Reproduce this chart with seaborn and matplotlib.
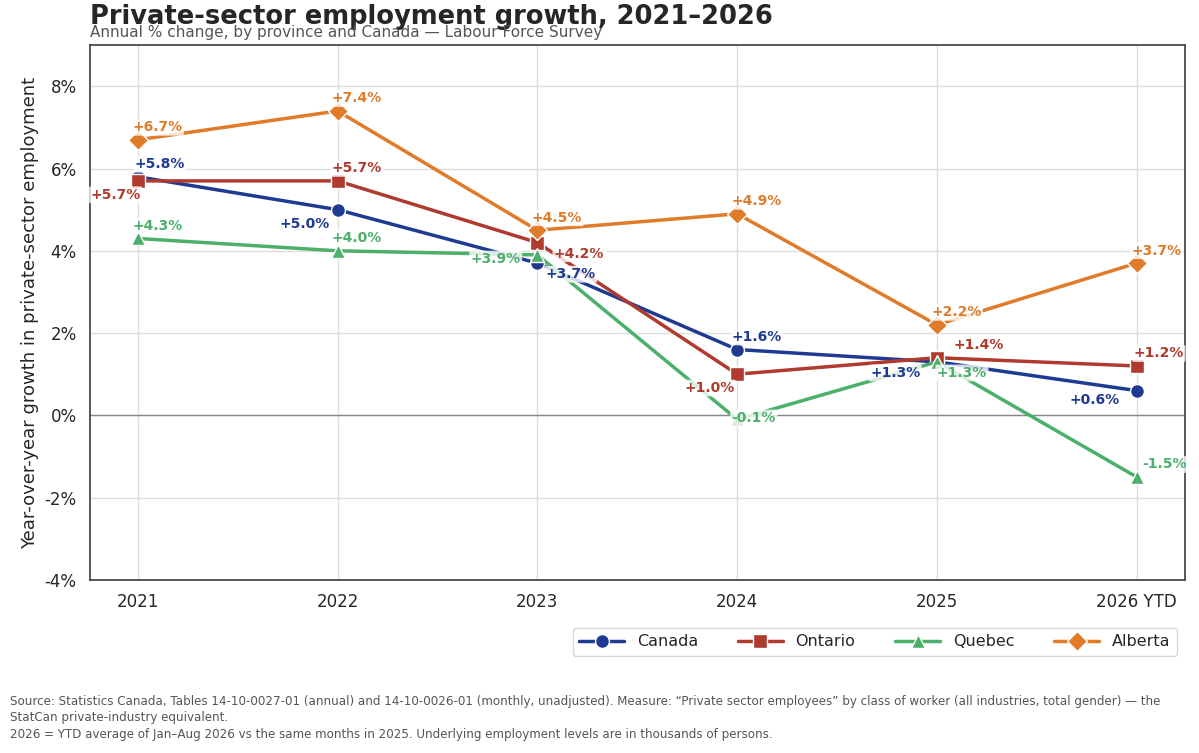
import matplotlib
matplotlib.use("Agg")
import matplotlib.pyplot as plt
import seaborn as sns
import pandas as pd

years = ["2021", "2022", "2023", "2024", "2025", "2026 YTD"]
canada = [5.8, 5.0, 3.7, 1.6, 1.3, 0.6]
ontario = [5.7, 5.7, 4.2, 1.0, 1.4, 1.2]
quebec = [4.3, 4.0, 3.9, -0.1, 1.3, -1.5]
alberta = [6.7, 7.4, 4.5, 4.9, 2.2, 3.7]
series_names = ["Canada", "Ontario", "Quebec", "Alberta"]

colors = {"Canada": "#1f3a93", "Ontario": "#b03a2e", "Quebec": "#4caf6a", "Alberta": "#e07b2a"}
markers = {"Canada": "o", "Ontario": "s", "Quebec": "^", "Alberta": "D"}
offsets = {
    "Canada": [(16, 9), (-24, -10), (24, -8), (14, 9), (-30, -8), (-30, -7)],
    "Ontario": [(-16, -10), (14, 9), (30, -8), (-20, -10), (30, 9), (16, 9)],
    "Quebec": [(14, 9), (14, 9), (-30, -3), (12, 1), (18, -8), (20, 9)],
    "Alberta": [(14, 9), (14, 9), (14, 9), (14, 9), (14, 9), (14, 9)],
}

sns.set_theme(style="whitegrid")
plt.rcParams['font.family'] = ['DejaVu Sans']

df = pd.DataFrame({"year": years * 4,
                   "x": list(range(6)) * 4,
                   "value": canada + ontario + quebec + alberta,
                   "series": sum([[s] * 6 for s in series_names], [])})

fig = plt.figure(figsize=(11.99, 7.53), dpi=100)
ax = fig.add_axes([0.075, 0.23, 0.913, 0.71])
sns.lineplot(data=df, x="x", y="value", hue="series", style="series",
             palette=colors, markers=markers, dashes=False, lw=2.5,
             markersize=10, markeredgecolor="white", markeredgewidth=1, ax=ax)

for s, vals in zip(series_names, [canada, ontario, quebec, alberta]):
    for i, v in enumerate(vals):
        dx, dy = offsets[s][i]
        ax.annotate(f"{v:+.1f}%", (i, v), xytext=(dx, dy), textcoords="offset points",
                    ha="center", va="center", fontsize=10, fontweight="bold", color=colors[s],
                    bbox=dict(boxstyle="round,pad=0.1", fc="white", ec="none", alpha=0.8))

ax.axhline(0, color="#888888", lw=1, zorder=1)
ax.set_ylim(-4, 9)
ax.set_yticks(range(-4, 9, 2))
ax.set_yticklabels([f"{t}%" for t in range(-4, 9, 2)], fontsize=12)
ax.set_xlim(-0.24, 5.24)
ax.set_xticks(range(6))
ax.set_xticklabels(years, fontsize=12)
ax.set_xlabel("")
ax.set_ylabel("Year-over-year growth in private-sector employment", fontsize=13)
for sp in ax.spines.values():
    sp.set_color("#444444")
ax.grid(color="#dddddd")

ax.legend(loc="upper right", bbox_to_anchor=(1.0, -0.075), ncol=4, fontsize=11.5,
          frameon=True, edgecolor="#cccccc", handlelength=2.8, columnspacing=2.5)

fig.text(0.075, 0.978, "Private-sector employment growth, 2021\u20132026", fontsize=18.5,
         fontweight="bold", ha="left", va="center")
fig.text(0.075, 0.957, "Annual % change, by province and Canada \u2014 Labour Force Survey",
         fontsize=11, color="#555555", ha="left", va="center")
fig.text(0.008, 0.016,
         "Source: Statistics Canada, Tables 14-10-0027-01 (annual) and 14-10-0026-01 (monthly, unadjusted). Measure: \u201cPrivate sector employees\u201d by class of worker (all industries, total gender) \u2014 the\n"
         "StatCan private-industry equivalent.\n"
         "2026 = YTD average of Jan\u2013Aug 2026 vs the same months in 2025. Underlying employment levels are in thousands of persons.",
         fontsize=8.6, color="#555555", ha="left", va="bottom", linespacing=1.35)

fig.savefig("out.png", dpi=100)
